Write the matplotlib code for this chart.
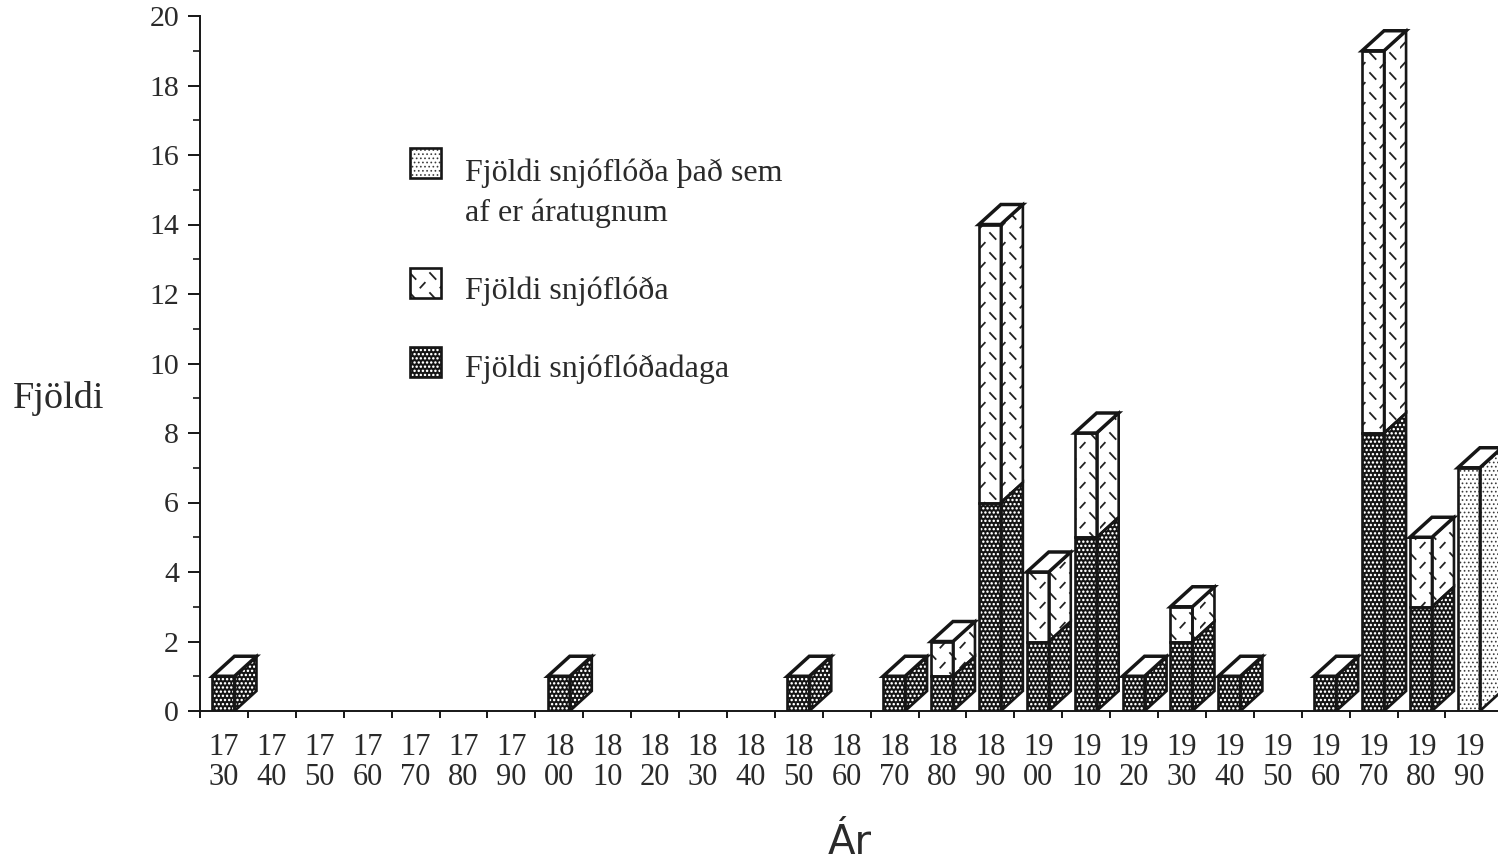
import matplotlib
matplotlib.use("Agg")
import matplotlib.pyplot as plt
import matplotlib.hatch as mhatch
from matplotlib.path import Path
from matplotlib.patches import Rectangle
from matplotlib.ticker import MultipleLocator, FixedLocator, NullFormatter
import numpy as np

# ---- data ----
decades = [1730, 1740, 1750, 1760, 1770, 1780, 1790, 1800, 1810, 1820, 1830, 1840, 1850,
           1860, 1870, 1880, 1890, 1900, 1910, 1920, 1930, 1940, 1950, 1960, 1970, 1980, 1990]
days =    [1, 0, 0, 0, 0, 0, 0, 1, 0, 0, 0, 0, 1,
           0, 1, 1, 6, 2, 5, 1, 2, 1, 0, 1, 8, 3, 0]
totals =  [1, 0, 0, 0, 0, 0, 0, 1, 0, 0, 0, 0, 1,
           0, 1, 2, 14, 4, 8, 1, 3, 1, 0, 1, 19, 5, 0]
elsewhere = [0, 0, 0, 0, 0, 0, 0, 0, 0, 0, 0, 0, 0,
             0, 0, 0, 0, 0, 0, 0, 0, 0, 0, 0, 0, 0, 7]
legend_labels = ["Fjöldi snjóflóða það sem\naf er áratugnum", "Fjöldi snjóflóða", "Fjöldi snjóflóðadaga"]
y_title = "Fjöldi"
x_title = "Ár"


# ---- custom print-like fills ----
class BigDots(mhatch.Circles):
    size = 0.30
    filled = True
    def __init__(self, hatch, density):
        self.num_rows = hatch.count('O') * density
        super().__init__(hatch, density)


class SmallDots(mhatch.Circles):
    size = 0.22
    filled = True
    def __init__(self, hatch, density):
        self.num_rows = hatch.count('o') * density
        super().__init__(hatch, density)


class Dashes(mhatch.HatchPatternBase):
    cells = 5
    def __init__(self, hatch, density):
        self.on = hatch.count('/') > 0
        self.num_vertices = (self.cells ** 2) * 4 if self.on else 0

    def set_vertices_and_codes(self, vertices, codes):
        c = 1.0 / self.cells
        k = 0
        for i in range(self.cells):
            for j in range(self.cells):
                x0, y0 = i * c, j * c
                vertices[k:k + 4] = [(x0 + 0.50 * c, y0 + 0.35 * c), (x0 + 0.78 * c, y0 + 0.05 * c),
                                     (x0 + 0.02 * c, y0 + 0.62 * c), (x0 + 0.24 * c, y0 + 0.86 * c)]
                codes[k:k + 4] = [Path.MOVETO, Path.LINETO, Path.MOVETO, Path.LINETO]
                k += 4


mhatch._hatch_types[:] = [BigDots, SmallDots, Dashes]

plt.rcParams['font.family'] = ['Liberation Serif', 'DejaVu Serif']

W, H = 1498, 864
fig = plt.figure(figsize=(W / 100, H / 100), dpi=100, facecolor='white')
ax = fig.add_axes([200 / W, (H - 711) / H, 1298 / W, 695 / H])
ax.set_xlim(-0.5, -0.5 + 1298 / 47.9)
ax.set_ylim(0, 20)

INK = '#161616'
TXT = '#2a2a2a'
bar_w = 22 / 47.9
dx = 22 / 47.9
dy = 20 / 34.75
shift = -0.01

DARK = dict(face='#141414', ink='white', hatch='OOOO', hlw=0.0)
DASH = dict(face='white', ink='#222222', hatch='/', hlw=1.3)
LIGHT = dict(face='white', ink='#3a3a3a', hatch='oooo', hlw=0.0)


def shape(xs, ys, st, z):
    plt.rcParams['hatch.linewidth'] = st['hlw']
    ax.fill(xs, ys, facecolor=st['face'], edgecolor=st['ink'], hatch=st['hatch'], linewidth=0, zorder=z)
    ax.fill(xs, ys, fill=False, edgecolor=INK, linewidth=1.9, zorder=z + 0.1, joinstyle='miter')


def segment(xc, lo, hi, st, z):
    l, r = xc - bar_w / 2 + shift, xc + bar_w / 2 + shift
    shape([l, r, r, l], [lo, lo, hi, hi], st, z)
    shape([r, r + dx, r + dx, r], [lo, lo + dy, hi + dy, hi], st, z)


for i, dec in enumerate(decades):
    z = 3 + i
    top = 0
    if days[i]:
        segment(i, 0, days[i], DARK, z)
        top = days[i]
    if totals[i] > days[i]:
        segment(i, days[i], totals[i], DASH, z)
        top = totals[i]
    if elsewhere[i]:
        segment(i, 0, elsewhere[i], LIGHT, z)
        top = elsewhere[i]
    if top:
        l, r = i - bar_w / 2 + shift, i + bar_w / 2 + shift
        ax.fill([l, r, r + dx, l + dx], [top, top, top + dy, top + dy], facecolor='white',
                edgecolor=INK, linewidth=2.5, zorder=z + 0.2, joinstyle='miter')

# axes styling
for s in ('top', 'right'):
    ax.spines[s].set_visible(False)
for s in ('left', 'bottom'):
    ax.spines[s].set_linewidth(1.4)
    ax.spines[s].set_color(INK)
    ax.spines[s].set_zorder(40)

ax.yaxis.set_major_locator(MultipleLocator(2))
ax.yaxis.set_minor_locator(MultipleLocator(1))
ax.tick_params(axis='y', which='major', length=8.6, width=1.4, labelsize=21.5, pad=6.5, color=INK, labelcolor=TXT)
ax.tick_params(axis='y', which='minor', length=5, width=1.2, color=INK)

ax.xaxis.set_major_locator(FixedLocator(np.arange(len(decades)) - 0.5))
ax.xaxis.set_major_formatter(NullFormatter())
ax.tick_params(axis='x', which='major', length=5, width=1.4, color=INK)
ax.set_xticks(np.arange(len(decades)), [f"{d // 100}\n{d % 100:02d}" for d in decades], minor=True)
ax.tick_params(axis='x', which='minor', length=0, labelsize=22, pad=15.5, labelcolor=TXT)
for t in ax.get_xticklabels(minor=True):
    t.set_linespacing(1.07)

ax.set_ylabel(y_title, rotation=0, fontsize=27.5, color=TXT, ha='center', va='center')
ax.yaxis.set_label_coords((59 - 200) / 1298, (711 - 398) / 695)
ax.set_xlabel(x_title, fontsize=29, family='DejaVu Sans', color=TXT, ha='center', va='center')
ax.xaxis.set_label_coords((850 - 200) / 1298, (711 - 843) / 695)

# legend drawn in figure pixels
legend_rows = [(148, LIGHT, 173), (268, DASH, 291), (347, DARK, 369)]
for (top_px, st, text_y), lab in zip(legend_rows, legend_labels):
    plt.rcParams['hatch.linewidth'] = st['hlw']
    box = (410 / W, (H - top_px - 30) / H)
    fig.add_artist(Rectangle(box, 31 / W, 30 / H, transform=fig.transFigure, facecolor=st['face'],
                             edgecolor=st['ink'], hatch=st['hatch'], linewidth=0))
    fig.add_artist(Rectangle(box, 31 / W, 30 / H, transform=fig.transFigure, fill=False,
                             edgecolor=INK, linewidth=1.9))
    n = lab.count('\n')
    fig.text(465 / W, (H - text_y - n * 20) / H, lab, fontsize=23, color=TXT, ha='left', va='center',
             linespacing=1.48)

fig.savefig('out.png', dpi=100)
